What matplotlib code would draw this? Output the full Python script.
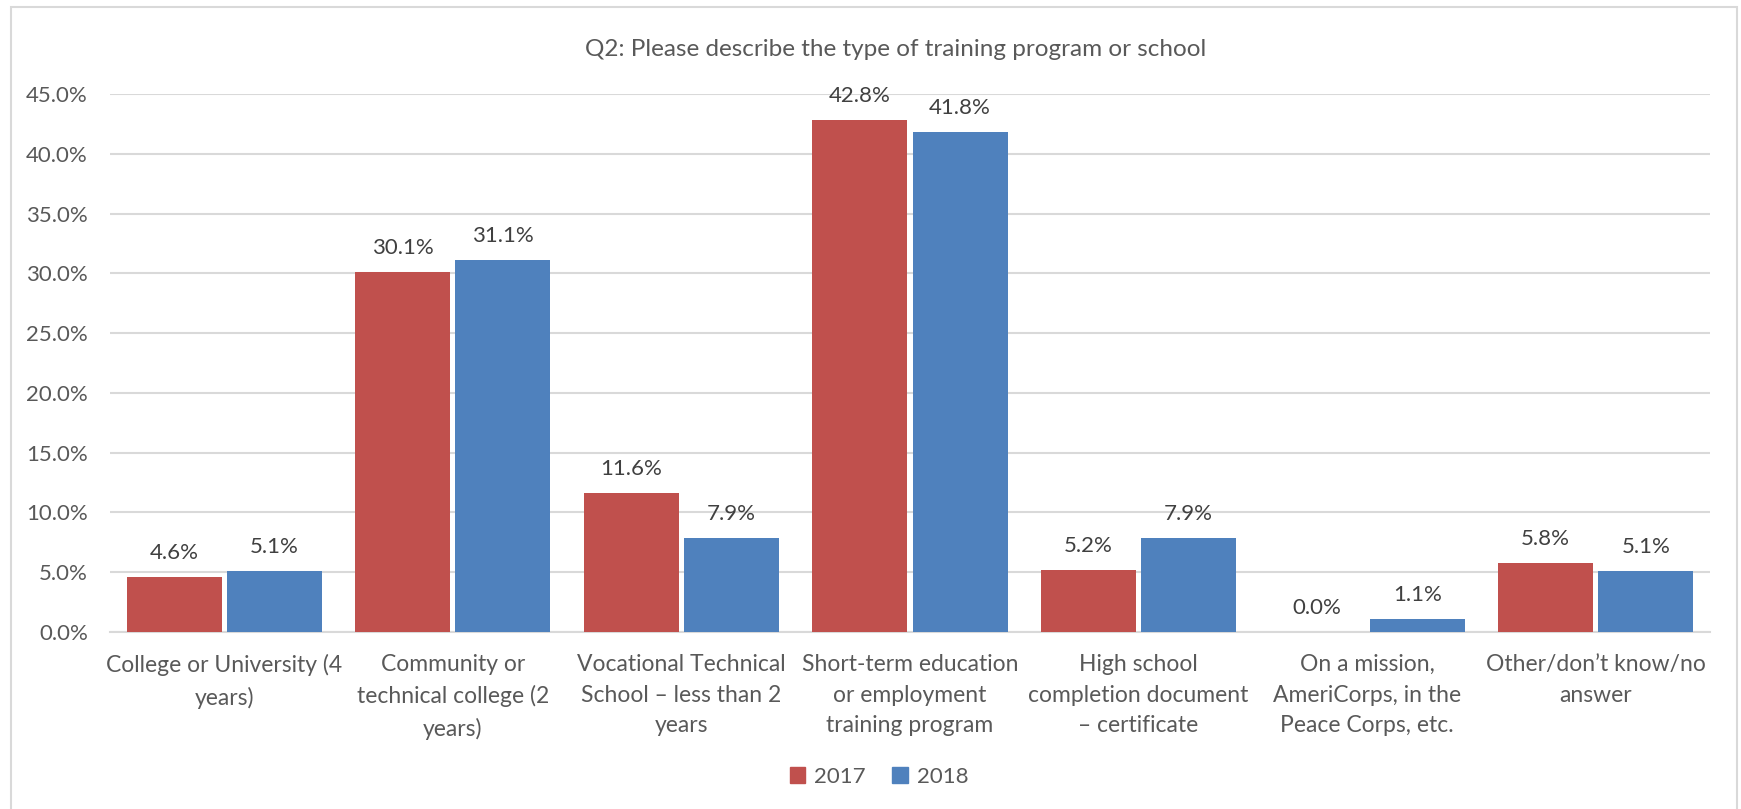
import matplotlib.pyplot as plt
import numpy as np
from matplotlib.patches import Rectangle, Patch

# data
categories = [
    "College or University (4\nyears)",
    "Community or\ntechnical college (2\nyears)",
    "Vocational Technical\nSchool \u2013 less than 2\nyears",
    "Short-term education\nor employment\ntraining program",
    "High school\ncompletion document\n\u2013 certificate",
    "On a mission,\nAmeriCorps, in the\nPeace Corps, etc.",
    "Other/don\u2019t know/no\nanswer",
]
vals_2017 = [4.6, 30.1, 11.6, 42.8, 5.2, 0.0, 5.8]
vals_2018 = [5.1, 31.1, 7.9, 41.8, 7.9, 1.1, 5.1]
series_names = ["2017", "2018"]
yticks = [0, 5, 10, 15, 20, 25, 30, 35, 40, 45]

red = "#C0504D"
blue = "#4F81BD"
grey_txt = "#595959"
grid_c = "#D9D9D9"

plt.rcParams["font.family"] = ["Lato", "DejaVu Sans"]

W, H = 1741, 809
fig = plt.figure(figsize=(W / 100, H / 100), dpi=100)
ax = fig.add_axes([110 / W, 1 - 632 / H, 1600 / W, (632 - 94) / H])

x = np.arange(len(categories))
bw = 0.416
gap = 0.022
b1 = ax.bar(x - (bw + gap) / 2, vals_2017, bw, color=red, zorder=3)
b2 = ax.bar(x + (bw + gap) / 2, vals_2018, bw, color=blue, zorder=3)

for bars in (b1, b2):
    for r in bars:
        ax.annotate(f"{r.get_height():.1f}%", (r.get_x() + r.get_width() / 2, r.get_height()),
                    xytext=(0, 10), textcoords="offset points", ha="center", va="bottom",
                    fontsize=16, color="#404040")

ax.set_xlim(-0.5, len(categories) - 0.5)
ax.set_ylim(0, 45)
ax.set_yticks(yticks)
ax.set_yticklabels([f"{t:.1f}%" for t in yticks])
ax.set_xticks(x)
ax.set_xticklabels(categories, linespacing=1.56, fontsize=16.5)
ax.tick_params(axis="both", length=0, labelsize=16, labelcolor=grey_txt)
ax.tick_params(axis="x", pad=16, labelsize=16.5)
ax.tick_params(axis="y", pad=16)
ax.yaxis.grid(True, color=grid_c, linewidth=1.5, zorder=0)
for s in ["top", "right", "left"]:
    ax.spines[s].set_visible(False)
ax.spines["bottom"].set_color(grid_c)
ax.spines["bottom"].set_linewidth(1.5)

fig.text(896 / W, 1 - 50 / H, "Q2: Please describe the type of training program or school",
         ha="center", va="center", fontsize=17.5, color=grey_txt)

handles = [Patch(color=red), Patch(color=blue)]
fig.legend(handles, series_names, loc="center", bbox_to_anchor=(879 / W, 1 - 777 / H),
           ncol=2, frameon=False, fontsize=16, handlelength=0.7, handleheight=0.7,
           handletextpad=0.4, columnspacing=1.2, labelcolor=grey_txt)

fig.add_artist(Rectangle((11 / W, -0.05), (1737 - 11) / W, 1.05 - 7 / H,
                         transform=fig.transFigure, fill=False, edgecolor=grid_c, linewidth=1.5))

fig.savefig("out.png", dpi=100)
